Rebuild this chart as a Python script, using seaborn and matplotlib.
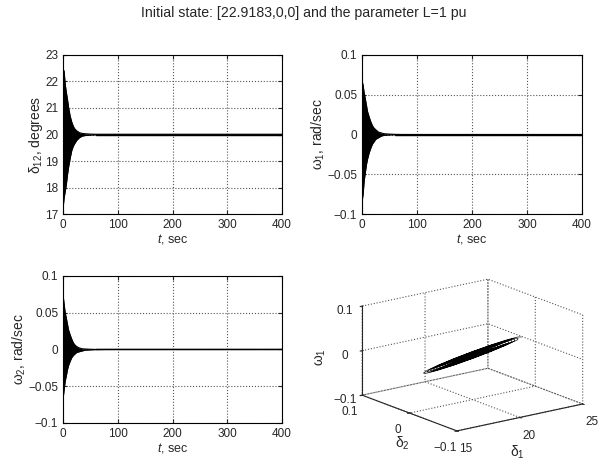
import numpy as np
import matplotlib
matplotlib.use("Agg")
import matplotlib.pyplot as plt
import seaborn as sns

title = "Initial state: [22.9183,0,0] and the parameter L=1 pu"

# envelope of the (very fast) oscillation
t_env = [0, 2, 4, 6, 8, 10, 13, 16, 19, 22, 25, 30, 35, 40, 50, 60, 80, 400]
d12_up = [22.45, 22.4, 21.9, 21.6, 21.35, 21.05, 20.7, 20.47, 20.3, 20.2, 20.14,
          20.07, 20.04, 20.03, 20.015, 20.01, 20.01, 20.01]
d12_lo = [17.2, 17.6, 17.85, 18.1, 18.45, 18.75, 19.1, 19.4, 19.57, 19.68, 19.78,
          19.88, 19.94, 19.96, 19.98, 19.99, 19.99, 19.99]
w1_up = [0.068, 0.062, 0.052, 0.045, 0.037, 0.029, 0.022, 0.016, 0.011, 0.008, 0.006,
         0.003, 0.002, 0.001, 0.0005, 0.0002, 0.0, 0.0]
w1_lo = [-0.085, -0.075, -0.058, -0.048, -0.038, -0.031, -0.023, -0.017, -0.012, -0.009,
         -0.006, -0.004, -0.002, -0.001, -0.0005, -0.0002, 0.0, 0.0]
w2_up = [0.075, 0.062, 0.05, 0.043, 0.035, 0.027, 0.02, 0.014, 0.009, 0.006, 0.004,
         0.002, 0.001, 0.0007, 0.0003, 0.0001, 0.0, 0.0]
w2_lo = [-0.068, -0.055, -0.043, -0.036, -0.028, -0.022, -0.016, -0.011, -0.008, -0.006,
         -0.004, -0.003, -0.002, -0.001, -0.0005, -0.0002, 0.0, 0.0]
eq_d12 = 20.0
eq_w = 0.0

# phase portrait: one thin loop (delta1, delta2, omega1) and the shrink per loop
loop_cos = [1, 0.924, 0.707, 0.383, 0, -0.383, -0.707, -0.924, -1,
            -0.924, -0.707, -0.383, 0, 0.383, 0.707, 0.924]
loop_sin = [0, 0.383, 0.707, 0.924, 1, 0.924, 0.707, 0.383, 0,
            -0.383, -0.707, -0.924, -1, -0.924, -0.707, -0.383]
amp_d1 = 3.9
amp_w1_in = 0.017
amp_w1_quad = 0.008
loop_scale = [1.0, 0.93, 0.86, 0.8, 0.74, 0.68, 0.62, 0.57, 0.52, 0.47, 0.42,
              0.37, 0.33, 0.29, 0.25, 0.21, 0.17, 0.14, 0.11, 0.08, 0.05, 0.03]

sns.set_style("ticks")
plt.rcParams["font.family"] = ["Liberation Sans", "DejaVu Sans"]
plt.rcParams["mathtext.fontset"] = "custom"
plt.rcParams["mathtext.rm"] = "Liberation Sans"
plt.rcParams["mathtext.it"] = "Liberation Sans:italic"
plt.rcParams["font.size"] = 8.5
plt.rcParams["grid.linestyle"] = ":"
plt.rcParams["grid.color"] = "#555555"
plt.rcParams["grid.linewidth"] = 0.8

W, H = 607, 468
fig = plt.figure(figsize=(W / 100, H / 100), dpi=100)
fig.text(0.5, 0.972, title, ha="center", va="center", fontsize=10.2)

panels = [
    ([0.1038, 0.5427, 0.3608, 0.3398], d12_up, d12_lo, eq_d12, (17, 23),
     [17, 18, 19, 20, 21, 22, 23], "δ$_{12}$, degrees"),
    ([0.5964, 0.5427, 0.3624, 0.3398], w1_up, w1_lo, eq_w, (-0.1, 0.1),
     [-0.1, -0.05, 0, 0.05, 0.1], "ω$_1$, rad/sec"),
    ([0.1038, 0.0962, 0.3608, 0.3141], w2_up, w2_lo, eq_w, (-0.1, 0.1),
     [-0.1, -0.05, 0, 0.05, 0.1], "ω$_2$, rad/sec"),
]

for rect, up, lo, eq, ylim, yticks, ylab in panels:
    ax = fig.add_axes(rect)
    ax.fill_between(t_env, lo, up, color="black", linewidth=0)
    sns.lineplot(x=t_env, y=up, color="black", linewidth=0.8, ax=ax)
    sns.lineplot(x=t_env, y=lo, color="black", linewidth=0.8, ax=ax)
    ax.axhline(eq, xmin=0.15, color="black", linewidth=1.0)
    ax.set_xlim(0, 400)
    ax.set_ylim(*ylim)
    ax.set_xticks([0, 100, 200, 300, 400])
    ax.set_yticks(yticks)
    ax.set_yticklabels([f"{v:g}".replace("-", "\u2212") for v in yticks])
    ax.grid(True)
    ax.tick_params(direction="in", length=3, top=True, right=True, labelsize=8.5)
    for s in ax.spines.values():
        s.set_linewidth(0.8)
        s.set_color("black")
    ax.set_xlabel("$t$, sec", fontsize=9, labelpad=1)
    ax.set_ylabel(ylab, fontsize=10, labelpad=0)

# 3-D phase portrait
ax3 = fig.add_axes([0.5534, 0.0, 0.44, 0.47], projection="3d", proj_type="ortho")
xs, ys, zs = [], [], []
for sc in loop_scale:
    for c, s in zip(loop_cos, loop_sin):
        xs.append(20 + sc * amp_d1 * c)
        ys.append(0.0)
        zs.append(sc * (amp_w1_in * c + amp_w1_quad * s))
xs.append(20.0)
ys.append(0.0)
zs.append(0.0)
ax3.plot(xs, ys, zs, color="black", linewidth=0.45)
ax3.set_box_aspect((1, 1, 0.59), zoom=1.065)
ax3.set_xlim(15, 25)
ax3.set_ylim(-0.1, 0.1)
ax3.set_zlim(-0.1, 0.1)
ax3.set_xticks([15, 20, 25])
ax3.set_yticks([-0.1, 0, 0.1])
ax3.set_zticks([-0.1, 0, 0.1])
ax3.set_yticklabels(["\u22120.1", "0", "0.1"])
ax3.set_zticklabels(["\u22120.1", "0", "0.1"])
ax3.view_init(elev=16.5, azim=-127)
for axis in (ax3.xaxis, ax3.yaxis, ax3.zaxis):
    axis.set_pane_color((1, 1, 1, 0))
    axis.line.set_linewidth(0.8)
ax3.tick_params(labelsize=8.5, pad=0)
ax3.zaxis.set_tick_params(pad=-1.5)

# axis names of the 3-D panel, placed like the reference
fig.text(517 / W, 1 - 452 / H, "δ$_1$", ha="center", va="center", fontsize=10)
fig.text(402 / W, 1 - 443 / H, "δ$_2$", ha="center", va="center", fontsize=10)
fig.text(321 / W, 1 - 357 / H, "ω$_1$", ha="center", va="center", fontsize=10,
         rotation=90)

fig.savefig("out.png", dpi=100)
